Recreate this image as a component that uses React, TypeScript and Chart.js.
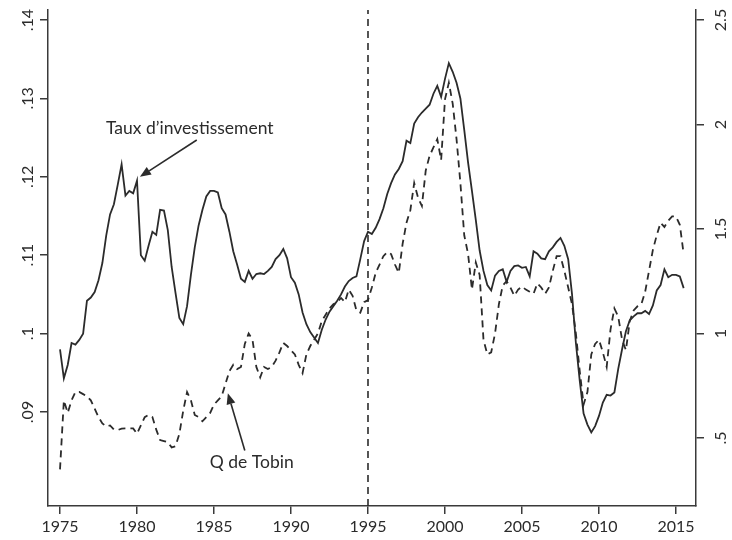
import React, { useEffect, useRef } from 'react';
import { Chart, registerables } from 'chart.js';

Chart.register(...registerables);

// ---- data (quarterly, starting 1975Q1) ----
const START_YEAR = 1975;

const investRate = [
  0.0980, 0.0943, 0.0960, 0.0988,
  0.0986, 0.0992, 0.1000, 0.1042,
  0.1046, 0.1053, 0.1068, 0.1090,
  0.1125, 0.1152, 0.1165, 0.1190,
  0.1216, 0.1176, 0.1182, 0.1179,
  0.1195, 0.1100, 0.1093, 0.1112,
  0.1130, 0.1126, 0.1158, 0.1157,
  0.1132, 0.1085, 0.1052, 0.1020,
  0.1012, 0.1035, 0.1075, 0.1110,
  0.1138, 0.1158, 0.1175, 0.1182,
  0.1182, 0.1180, 0.1160, 0.1152,
  0.1130, 0.1105, 0.1088, 0.1070,
  0.1066, 0.1080, 0.1070, 0.1076,
  0.1077, 0.1076, 0.1080, 0.1085,
  0.1095, 0.1100, 0.1108, 0.1096,
  0.1072, 0.1065, 0.1050, 0.1027,
  0.1012, 0.1002, 0.0995, 0.0988,
  0.1005, 0.1018, 0.1028, 0.1035,
  0.1042, 0.1050, 0.1060, 0.1067,
  0.1071, 0.1073, 0.1095, 0.1118,
  0.1130, 0.1127, 0.1135, 0.1146,
  0.1160, 0.1178, 0.1192, 0.1203,
  0.1210, 0.1220, 0.1246, 0.1243,
  0.1268, 0.1276, 0.1282, 0.1287,
  0.1292, 0.1306, 0.1316, 0.1302,
  0.1325, 0.1345, 0.1334, 0.1320,
  0.1300, 0.1260, 0.1218, 0.1182,
  0.1145, 0.1106, 0.1080, 0.1062,
  0.1055, 0.1074, 0.1080, 0.1082,
  0.1066, 0.1080, 0.1086, 0.1087,
  0.1084, 0.1085, 0.1073, 0.1105,
  0.1102, 0.1096, 0.1095, 0.1105,
  0.1110, 0.1117, 0.1122, 0.1112,
  0.1095, 0.1050, 0.0988, 0.0940,
  0.0898, 0.0884, 0.0874, 0.0882,
  0.0895, 0.0912, 0.0922, 0.0921,
  0.0925, 0.0955, 0.0980, 0.1003,
  0.1017, 0.1022, 0.1026, 0.1026,
  0.1029, 0.1025, 0.1036, 0.1055,
  0.1062, 0.1082, 0.1072, 0.1075,
  0.1075, 0.1073, 0.1058,
];

const tobinQ = [
  0.35, 0.68, 0.62, 0.68,
  0.72, 0.72, 0.71, 0.70,
  0.68, 0.64, 0.60, 0.57,
  0.555, 0.56, 0.54, 0.538,
  0.545, 0.546, 0.546, 0.546,
  0.52, 0.56, 0.60, 0.61,
  0.60, 0.54, 0.49, 0.485,
  0.48, 0.455, 0.46, 0.52,
  0.63, 0.72, 0.68, 0.61,
  0.60, 0.58, 0.60, 0.62,
  0.66, 0.68, 0.70, 0.76,
  0.82, 0.85, 0.83, 0.84,
  0.95, 1.00, 0.97, 0.84,
  0.79, 0.84, 0.83, 0.84,
  0.87, 0.91, 0.955, 0.94,
  0.92, 0.90, 0.85, 0.81,
  0.90, 0.94, 0.97, 1.00,
  1.06, 1.09, 1.12, 1.14,
  1.15, 1.17, 1.15, 1.21,
  1.18, 1.11, 1.10, 1.15,
  1.16, 1.22, 1.29, 1.33,
  1.37, 1.39, 1.38, 1.33,
  1.29, 1.43, 1.53, 1.59,
  1.72, 1.65, 1.61, 1.78,
  1.85, 1.89, 1.93, 1.83,
  2.12, 2.20, 2.10, 1.93,
  1.72, 1.47, 1.38, 1.21,
  1.34, 1.28, 0.97, 0.90,
  0.91, 1.00, 1.14, 1.23,
  1.25, 1.22, 1.18, 1.21,
  1.225, 1.21, 1.20, 1.19,
  1.24, 1.22, 1.19, 1.22,
  1.30, 1.37, 1.37, 1.30,
  1.22, 1.14, 1.00, 0.82,
  0.66, 0.72, 0.90, 0.95,
  0.97, 0.91, 0.84, 1.02,
  1.12, 1.08, 0.97, 0.92,
  1.06, 1.11, 1.13, 1.14,
  1.20, 1.30, 1.40, 1.47,
  1.53, 1.51, 1.54, 1.56,
  1.56, 1.52, 1.38,
];

const xTickValues = [1975, 1980, 1985, 1990, 1995, 2000, 2005, 2010, 2015];
const leftTickValues = [0.09, 0.1, 0.11, 0.12, 0.13, 0.14];
const leftTickLabels = ['.09', '.1', '.11', '.12', '.13', '.14'];
const rightTickValues = [0.5, 1, 1.5, 2, 2.5];
const rightTickLabels = ['.5', '1', '1.5', '2', '2.5'];
const markerYears = [1995];

// axis ranges
const X_MIN = 1974.22;
const X_MAX = 2016.3;
const YL_MIN = 0.07801;
const YL_MAX = 0.14128;
const YR_MIN = 0.1746;
const YR_MAX = 2.5478;

// annotation anchors (data coordinates on x / left axis)
const notes = [
  { text: 'Taux d\u2019investissement', tx: 1983.43, ty: 0.1262, fx: 1983.88, fy: 0.1247, hx: 1980.19, hy: 0.1200 },
  { text: 'Q de Tobin', tx: 1987.45, ty: 0.0836, fx: 1987.0, fy: 0.0851, hx: 1985.9, hy: 0.0924 },
];

const INK = '#2b2b2b';
const FONT = 'Lato, "Open Sans", sans-serif';

const overlayPlugin = {
  id: 'overlay',
  afterDraw(chart: any) {
    const ctx = chart.ctx as CanvasRenderingContext2D;
    const sx = chart.scales.x;
    const yl = chart.scales.yL;
    const yr = chart.scales.yR;
    ctx.save();
    ctx.fillStyle = INK;
    ctx.font = `16px ${FONT}`;
    ctx.textAlign = 'center';
    ctx.textBaseline = 'middle';
    leftTickValues.forEach((v, i) => {
      const py = yl.getPixelForValue(v);
      ctx.save();
      ctx.translate(yl.right - 20, py);
      ctx.rotate(-Math.PI / 2);
      ctx.fillText(leftTickLabels[i], 0, 0);
      ctx.restore();
    });
    rightTickValues.forEach((v, i) => {
      const py = yr.getPixelForValue(v);
      ctx.save();
      ctx.translate(yr.left + 25, py);
      ctx.rotate(-Math.PI / 2);
      ctx.fillText(rightTickLabels[i], 0, 0);
      ctx.restore();
    });

    // annotations
    ctx.font = `17.5px ${FONT}`;
    ctx.strokeStyle = INK;
    ctx.lineWidth = 1.6;
    notes.forEach((n) => {
      const tx = sx.getPixelForValue(n.tx);
      const ty = yl.getPixelForValue(n.ty);
      ctx.fillText(n.text, tx, ty);
      const fx = sx.getPixelForValue(n.fx);
      const fy = yl.getPixelForValue(n.fy);
      const hx = sx.getPixelForValue(n.hx);
      const hy = yl.getPixelForValue(n.hy);
      const ang = Math.atan2(hy - fy, hx - fx);
      const L = 11;
      const W = 4.5;
      const bx = hx - L * Math.cos(ang);
      const by = hy - L * Math.sin(ang);
      ctx.beginPath();
      ctx.moveTo(fx, fy);
      ctx.lineTo(bx, by);
      ctx.stroke();
      ctx.beginPath();
      ctx.moveTo(hx, hy);
      ctx.lineTo(bx - W * Math.sin(ang), by + W * Math.cos(ang));
      ctx.lineTo(bx + W * Math.sin(ang), by - W * Math.cos(ang));
      ctx.closePath();
      ctx.fill();
    });
    ctx.restore();
  },
};

export default function App() {
  const ref = useRef<HTMLCanvasElement | null>(null);

  useEffect(() => {
    if (!ref.current) return;
    const toPoints = (arr: number[]) =>
      arr.map((v, i) => ({ x: START_YEAR + i / 4, y: v }));

    const axisGrid = {
      drawOnChartArea: false,
      drawTicks: true,
      tickLength: 8,
      color: '#3a3a3a',
      lineWidth: 1.5,
    };
    const axisBorder = { display: true, color: '#3a3a3a', width: 1.5 };

    const chart = new Chart(ref.current, {
      type: 'line',
      data: {
        datasets: [
          {
            label: 'Taux d\u2019investissement',
            data: toPoints(investRate),
            yAxisID: 'yL',
            borderColor: INK,
            borderWidth: 1.8,
            pointRadius: 0,
            tension: 0,
          },
          {
            label: 'Q de Tobin',
            data: toPoints(tobinQ),
            yAxisID: 'yR',
            borderColor: INK,
            borderWidth: 1.8,
            borderDash: [7, 5],
            pointRadius: 0,
            tension: 0,
          },
          {
            label: 'marker',
            data: markerYears.flatMap((yr) => [
              { x: yr, y: YL_MIN },
              { x: yr, y: YL_MAX },
            ]),
            yAxisID: 'yL',
            borderColor: INK,
            borderWidth: 1.6,
            borderDash: [7, 5],
            pointRadius: 0,
          },
        ],
      },
      options: {
        animation: false,
        responsive: false,
        layout: { padding: { top: 10, left: 0, right: 0, bottom: 0 } },
        plugins: { legend: { display: false }, tooltip: { enabled: false } },
        scales: {
          x: {
            type: 'linear',
            min: X_MIN,
            max: X_MAX,
            afterBuildTicks: (s: any) => {
              s.ticks = xTickValues.map((v) => ({ value: v }));
            },
            afterFit: (s: any) => {
              s.height = 34;
            },
            ticks: {
              callback: (v: any) => String(v),
              color: INK,
              font: { family: FONT, size: 16 },
              padding: 3,
              maxRotation: 0,
              autoSkip: false,
            },
            grid: axisGrid,
            border: axisBorder,
          },
          yL: {
            type: 'linear',
            position: 'left',
            min: YL_MIN,
            max: YL_MAX,
            afterBuildTicks: (s: any) => {
              s.ticks = leftTickValues.map((v) => ({ value: v }));
            },
            afterFit: (s: any) => {
              s.width = 48;
            },
            ticks: { display: false },
            grid: axisGrid,
            border: axisBorder,
          },
          yR: {
            type: 'linear',
            position: 'right',
            min: YR_MIN,
            max: YR_MAX,
            afterBuildTicks: (s: any) => {
              s.ticks = rightTickValues.map((v) => ({ value: v }));
            },
            afterFit: (s: any) => {
              s.width = 36;
            },
            ticks: { display: false },
            grid: axisGrid,
            border: axisBorder,
          },
        },
      },
      plugins: [overlayPlugin],
    } as any);

    return () => chart.destroy();
  }, []);

  return (
    <div style={{ position: 'absolute', left: 0, top: 0, width: 732, height: 540, background: '#fff' }}>
      <canvas ref={ref} width={732} height={540} style={{ display: 'block' }} />
    </div>
  );
}
